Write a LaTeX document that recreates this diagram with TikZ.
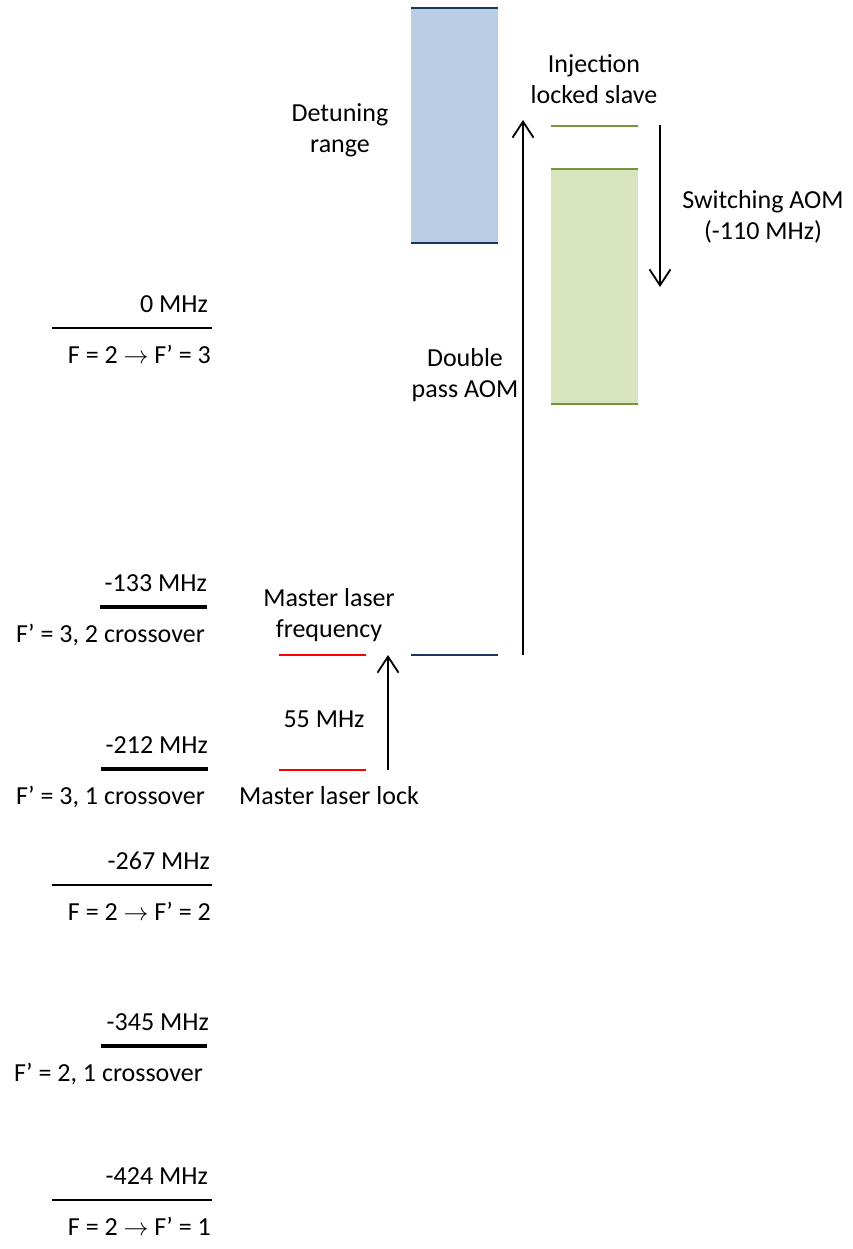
\documentclass[tikz,border=0pt]{standalone}
\usepackage{fontspec}
\setmainfont{Carlito}
\usetikzlibrary{arrows.meta}
\definecolor{navy}{HTML}{17375E}
\definecolor{bluefill}{HTML}{B9CDE5}
\definecolor{greenfill}{HTML}{D7E4BD}
\definecolor{greenline}{HTML}{77933C}
\definecolor{redline}{HTML}{FF0000}
\tikzset{
  lbl/.style={font=\fontsize{26}{31}\selectfont, inner sep=0pt, align=center},
  thinlevel/.style={line width=2pt, black},
  thicklevel/.style={line width=4pt, black},
  arr/.style={line width=1.8pt, black, -{Straight Barb[length=16pt,width=21pt]}},
  bandline/.style={line width=2.5pt},
}
\begin{document}
\begin{tikzpicture}[x=1pt,y=-1pt]
\useasboundingbox (0,0) rectangle (852,1249);

% detuning range band (blue)
\fill[bluefill] (411,8) rectangle (498,243);
\draw[bandline, navy] (411,8) -- (498,8);
\draw[bandline, navy] (411,243) -- (498,243);

% injection locked slave band (green)
\fill[greenfill] (551,169) rectangle (638,404);
\draw[bandline, greenline] (551,126) -- (638,126);
\draw[bandline, greenline] (551,169) -- (638,169);
\draw[bandline, greenline] (551,404) -- (638,404);

% master laser lines
\draw[line width=2pt, navy] (411,655) -- (498,655);
\draw[line width=2pt, redline] (279,655) -- (366,655);
\draw[line width=2pt, redline] (279,770) -- (366,770);

% arrows
\coordinate (dpS) at (523,655);
\coordinate (dpE) at (523,120);
\draw[arr] (dpS) -- (dpE);
\coordinate (swS) at (660,125);
\coordinate (swE) at (660,287);
\draw[arr] (swS) -- (swE);
\coordinate (mlS) at (388,770);
\coordinate (mlE) at (388,655);
\draw[arr] (mlS) -- (mlE);

% arrow / band labels
\node[lbl] (inj) at (594,79) {Injection\\locked slave};
\node[lbl] (det) at (340,130) {Detuning\\range};
\node[lbl] (sw) at (763,217) {Switching AOM\\(-110 MHz)};
\node[lbl] (dp) at (465,375) {Double\\pass AOM};
\node[lbl] (mlf) at (329,615) {Master laser\\frequency};
\node[lbl, anchor=base] (fifty) at (324,727) {55 MHz};
\node[lbl, anchor=base] (mll) at (329,804) {Master laser lock};

% reference levels
\draw[thinlevel] (52,328) -- (212,328);
\node[lbl, anchor=base east] (l0a) at (208,312) {0 MHz};
\node[lbl, anchor=base east] (l0b) at (211,363) {F = 2 $\rightarrow$ F’ = 3};

\draw[thicklevel] (100,607) -- (207,607);
\node[lbl, anchor=base east] (l1a) at (207,591) {-133 MHz};
\node[lbl, anchor=base east] (l1b) at (205,642) {F’ = 3, 2 crossover};

\draw[thicklevel] (101,769) -- (208,769);
\node[lbl, anchor=base east] (l2a) at (208,753) {-212 MHz};
\node[lbl, anchor=base east] (l2b) at (205,804) {F’ = 3, 1 crossover};

\draw[thinlevel] (52,885) -- (212,885);
\node[lbl, anchor=base east] (l3a) at (210,869) {-267 MHz};
\node[lbl, anchor=base east] (l3b) at (211,920) {F = 2 $\rightarrow$ F’ = 2};

\draw[thicklevel] (101,1046) -- (207,1046);
\node[lbl, anchor=base east] (l4a) at (209,1030) {-345 MHz};
\node[lbl, anchor=base east] (l4b) at (203,1081) {F’ = 2, 1 crossover};

\draw[thinlevel] (52,1200) -- (212,1200);
\node[lbl, anchor=base east] (l5a) at (208,1184) {-424 MHz};
\node[lbl, anchor=base east] (l5b) at (211,1235) {F = 2 $\rightarrow$ F’ = 1};
\end{tikzpicture}
\end{document}
